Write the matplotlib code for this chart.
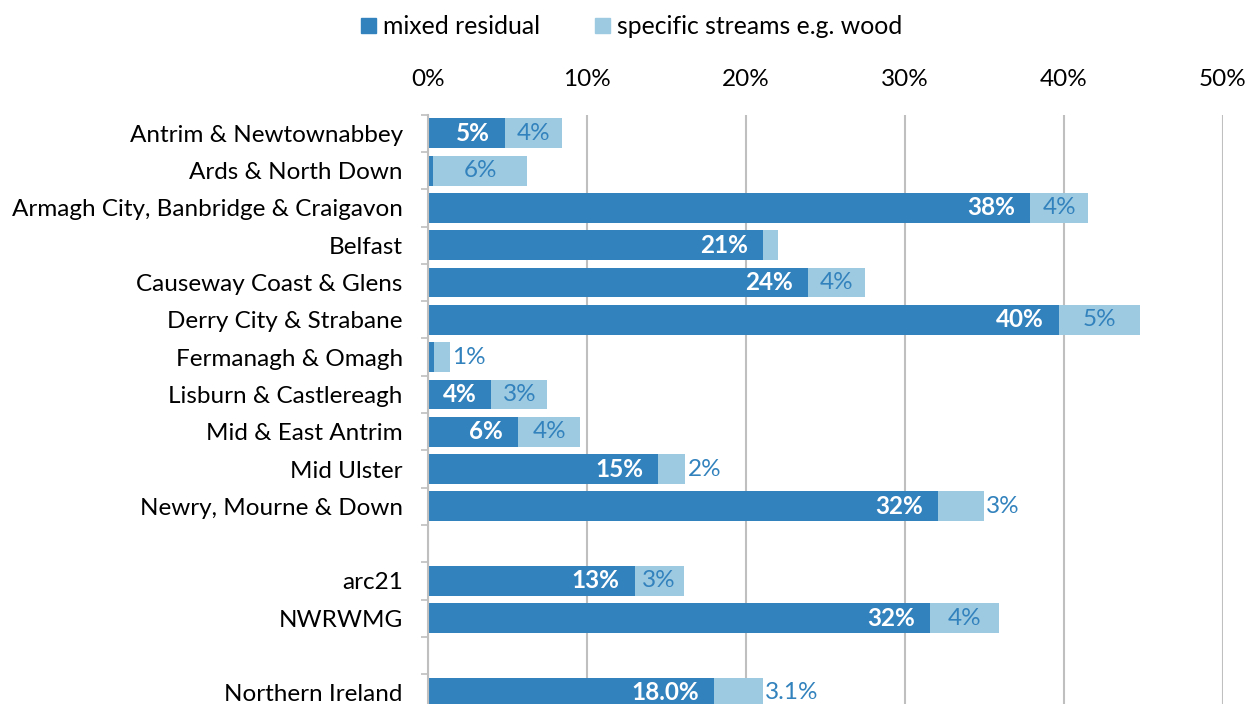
import numpy as np
import matplotlib
matplotlib.use('Agg')
from matplotlib import pyplot as plt
from matplotlib.patches import Patch

plt.rcParams['font.family'] = ['Lato', 'DejaVu Sans']

# Council / group names, '' marks a blank spacer row
categories = [
    'Antrim & Newtownabbey', 'Ards & North Down', 'Armagh City, Banbridge & Craigavon',
    'Belfast', 'Causeway Coast & Glens', 'Derry City & Strabane', 'Fermanagh & Omagh',
    'Lisburn & Castlereagh', 'Mid & East Antrim', 'Mid Ulster', 'Newry, Mourne & Down',
    '', 'arc21', 'NWRWMG', '', 'Northern Ireland',
]
mixed_residual = [4.85, 0.35, 37.9, 21.1, 23.9, 39.7, 0.4, 4.0, 5.7, 14.5, 32.1,
                  np.nan, 13.0, 31.6, np.nan, 18.0]
specific_streams = [3.6, 5.9, 3.6, 0.95, 3.6, 5.1, 1.0, 3.5, 3.9, 1.7, 2.9,
                    np.nan, 3.1, 4.3, np.nan, 3.1]
mixed_labels = ['5%', '', '38%', '21%', '24%', '40%', '', '4%', '6%', '15%', '32%',
                '', '13%', '32%', '', '18.0%']
specific_labels = ['4%', '6%', '4%', '', '4%', '5%', '1%', '3%', '4%', '2%', '3%',
                   '', '3%', '4%', '', '3.1%']
# specific label sits outside the bar when the segment is too narrow
specific_outside = [False, False, False, False, False, False, True, False, False, True, True,
                    False, False, False, False, True]

dark = '#3282bd'
light = '#9ecae1'
grid_grey = '#bfbfbf'
fs = 17.5


def main():
    fig = plt.figure(figsize=(12.51, 7.04), dpi=100)
    ax = fig.add_axes([0.342, -0.0105, 0.6355, 0.8475])

    y = np.arange(len(categories))
    mr = np.array(mixed_residual)
    ss = np.array(specific_streams)
    ax.barh(y, mr, height=0.8, color=dark, zorder=2)
    ax.barh(y, ss, left=mr, height=0.8, color=light, zorder=2)

    for i in range(len(categories)):
        if mixed_labels[i]:
            ax.annotate(mixed_labels[i], (mr[i], y[i]), xytext=(-11, 0),
                        textcoords='offset points', ha='right', va='center',
                        color='white', fontweight='bold', fontsize=fs, zorder=3)
        if specific_labels[i]:
            if specific_outside[i]:
                ax.annotate(specific_labels[i], (mr[i] + ss[i], y[i]), xytext=(1.5, 0),
                            textcoords='offset points', ha='left', va='center',
                            color=dark, fontsize=fs, zorder=3)
            else:
                ax.text(mr[i] + ss[i] / 2, y[i], specific_labels[i], ha='center',
                        va='center', color=dark, fontsize=fs, zorder=3)

    ax.set_xlim(0, 50)
    ax.set_ylim(len(categories) - 0.5, -0.5)
    ax.xaxis.tick_top()
    ax.set_xticks(np.arange(0, 51, 10))
    ax.set_xticklabels([f'{v}%' for v in range(0, 51, 10)])
    ax.tick_params(axis='x', length=0, pad=18, labelsize=fs)
    ax.grid(axis='x', color=grid_grey, linewidth=1.5, zorder=0)

    ax.set_yticks(y)
    ax.set_yticklabels(categories)
    ax.set_yticks(np.arange(-0.5, len(categories)), minor=True)
    ax.tick_params(axis='y', which='major', length=0, pad=18, labelsize=fs)
    ax.tick_params(axis='y', which='minor', length=5, color=grid_grey, width=1.2)

    for side in ['top', 'right', 'bottom']:
        ax.spines[side].set_visible(False)
    ax.spines['left'].set_color(grid_grey)
    ax.spines['left'].set_linewidth(1.5)

    handles = [Patch(color=dark, label='mixed residual'),
               Patch(color=light, label='specific streams e.g. wood')]
    fig.legend(handles=handles, loc='upper center', bbox_to_anchor=(0.505, 1.01), ncol=2,
               frameon=False, fontsize=17.8, handlelength=0.6, handleheight=0.6,
               handletextpad=0.3, columnspacing=2.2)

    fig.savefig('out.png', dpi=100)


if __name__ == '__main__':
    main()
